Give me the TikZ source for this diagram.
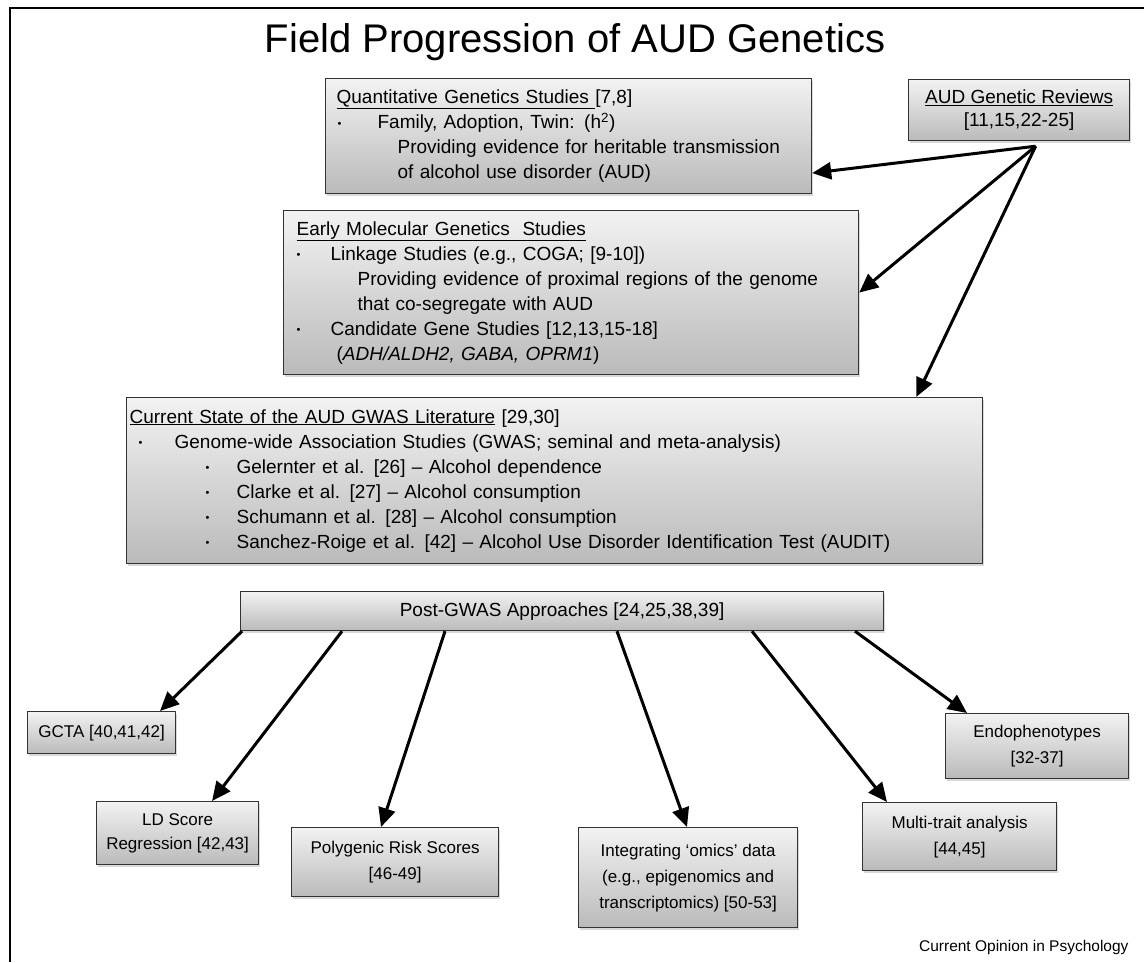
\documentclass[tikz,border=0pt]{standalone}
\usepackage{fontspec}
\setmainfont{Liberation Sans}
\usetikzlibrary{arrows.meta,shadows,positioning}
\newcommand{\Bul}[1]{\makebox[#1][l]{\raisebox{1.5pt}{\fontsize{11}{11}\selectfont\textbullet}}}

\begin{document}
\begin{tikzpicture}[x=1pt,y=-1pt]
\tikzset{BoxStyle/.style = {draw=black!80, line width=1.2pt,
                            top color=black!5, bottom color=black!27,
                            drop shadow={opacity=0.3,shadow xshift=1.5pt,shadow yshift=-2pt},
                            inner sep=0pt, anchor=north west},
         ListStyle/.style = {BoxStyle, align=left, font=\fontsize{19}{25}\selectfont},
         CiteStyle/.style = {BoxStyle, align=center, font=\fontsize{17}{26}\selectfont},
         EdgeStyle/.style = {line width=3pt, -{Triangle[length=19pt,width=17pt]}}}
  \useasboundingbox (0,0) rectangle (1144,962);
  \draw[line width=1.3pt] (10,962) -- (10,8) -- (1144,8);

  \node[font=\fontsize{40}{48}\selectfont] (T) at (575,42) {Field Progression of AUD Genetics};

  % top part
  \node[ListStyle, text width=486pt, minimum height=115pt] (QG) at (325,78)
    {\hspace*{11pt}\underline{Quantitative Genetics Studies }[7,8]\\
     \hspace*{12pt}\Bul{40pt}Family, Adoption, Twin: (h\textsuperscript{2})\\
     \hspace*{72pt}Providing evidence for heritable transmission\\
     \hspace*{72pt}of alcohol use disorder (AUD)};
  \node[BoxStyle, align=center, minimum width=221pt, minimum height=61pt, font=\fontsize{19}{23}\selectfont] (AR) at (908,79)
    {\underline{AUD Genetic Reviews}\\ {[11,15,22-25]}};
  \node[ListStyle, text width=575pt, minimum height=164pt] (EM) at (283,210)
    {\hspace*{13pt}\underline{Early Molecular Genetics\ \ Studies}\\
     \hspace*{13pt}\Bul{34pt}Linkage Studies (e.g., COGA; [9-10])\\
     \hspace*{74pt}Providing evidence of proximal regions of the genome\\
     \hspace*{74pt}that co-segregate with AUD\\
     \hspace*{13pt}\Bul{34pt}Candidate Gene Studies [12,13,15-18]\\
     \hspace*{53pt}(\textit{ADH/ALDH2, GABA, OPRM1})};
  \node[ListStyle, text width=856pt, minimum height=166pt] (GW) at (126,397)
    {\hspace*{3pt}\underline{Current State of the AUD GWAS Literature} [29,30]\\
     \hspace*{12pt}\Bul{36pt}Genome-wide Association Studies (GWAS; seminal and meta-analysis)\\
     \hspace*{79pt}\Bul{31pt}Gelernter et al. [26] -- Alcohol dependence\\
     \hspace*{79pt}\Bul{31pt}Clarke et al. [27] -- Alcohol consumption\\
     \hspace*{79pt}\Bul{31pt}Schumann et al. [28] -- Alcohol consumption\\
     \hspace*{79pt}\Bul{31pt}Sanchez-Roige et al. [42] -- Alcohol Use Disorder Identification Test (AUDIT)};

  \coordinate (H) at ([xshift=16.5pt,yshift=-5pt]AR.south);
  \draw[EdgeStyle] (H) -- ([yshift=-37pt]QG.east);
  \draw[EdgeStyle] (H) -- (EM.east);
  \draw[EdgeStyle] (H) -- ([xshift=-67pt]GW.north east);

  % post-GWAS part
  \node[BoxStyle, minimum width=643pt, minimum height=39pt, font=\fontsize{19}{23}\selectfont] (PG) at (240,591)
    {Post-GWAS Approaches [24,25,38,39]};
  \node[CiteStyle, minimum width=148pt, minimum height=42pt] (GC) at (27,711) {GCTA [40,41,42]};
  \node[CiteStyle, minimum width=162pt, minimum height=63pt, font=\fontsize{17}{24}\selectfont] (LD) at (96,801) {LD Score\\ Regression [42,43]};
  \node[CiteStyle, minimum width=207pt, minimum height=69pt] (PR) at (291,827) {Polygenic Risk Scores\\ {[46-49]}};
  \node[CiteStyle, minimum width=219pt, minimum height=100pt] (OM) at (578,827)
    {Integrating `omics' data\\ (e.g., epigenomics and\\ transcriptomics) [50-53]};
  \node[CiteStyle, minimum width=194pt, minimum height=68pt] (MT) at (862,802) {Multi-trait analysis\\ {[44,45]}};
  \node[CiteStyle, minimum width=183pt, minimum height=65pt] (EP) at (945,713) {Endophenotypes\\ {[32-37]}};

  \draw[EdgeStyle] ([xshift=2pt]PG.south west) -- ([xshift=133pt]GC.north west);
  \draw[EdgeStyle] ([xshift=102pt]PG.south west) -- ([xshift=116pt]LD.north west);
  \draw[EdgeStyle] ([xshift=205pt]PG.south west) -- ([xshift=90pt]PR.north west);
  \draw[EdgeStyle] ([xshift=377pt]PG.south west) -- ([xshift=109pt]OM.north west);
  \draw[EdgeStyle] ([xshift=512pt]PG.south west) -- ([xshift=25pt]MT.north west);
  \draw[EdgeStyle] ([xshift=615pt]PG.south west) -- ([xshift=22pt]EP.north west);

  \node[anchor=east, font=\fontsize{15.5}{18}\selectfont] (CO) at (1132,947) {Current Opinion in Psychology};
\end{tikzpicture}
\end{document}
